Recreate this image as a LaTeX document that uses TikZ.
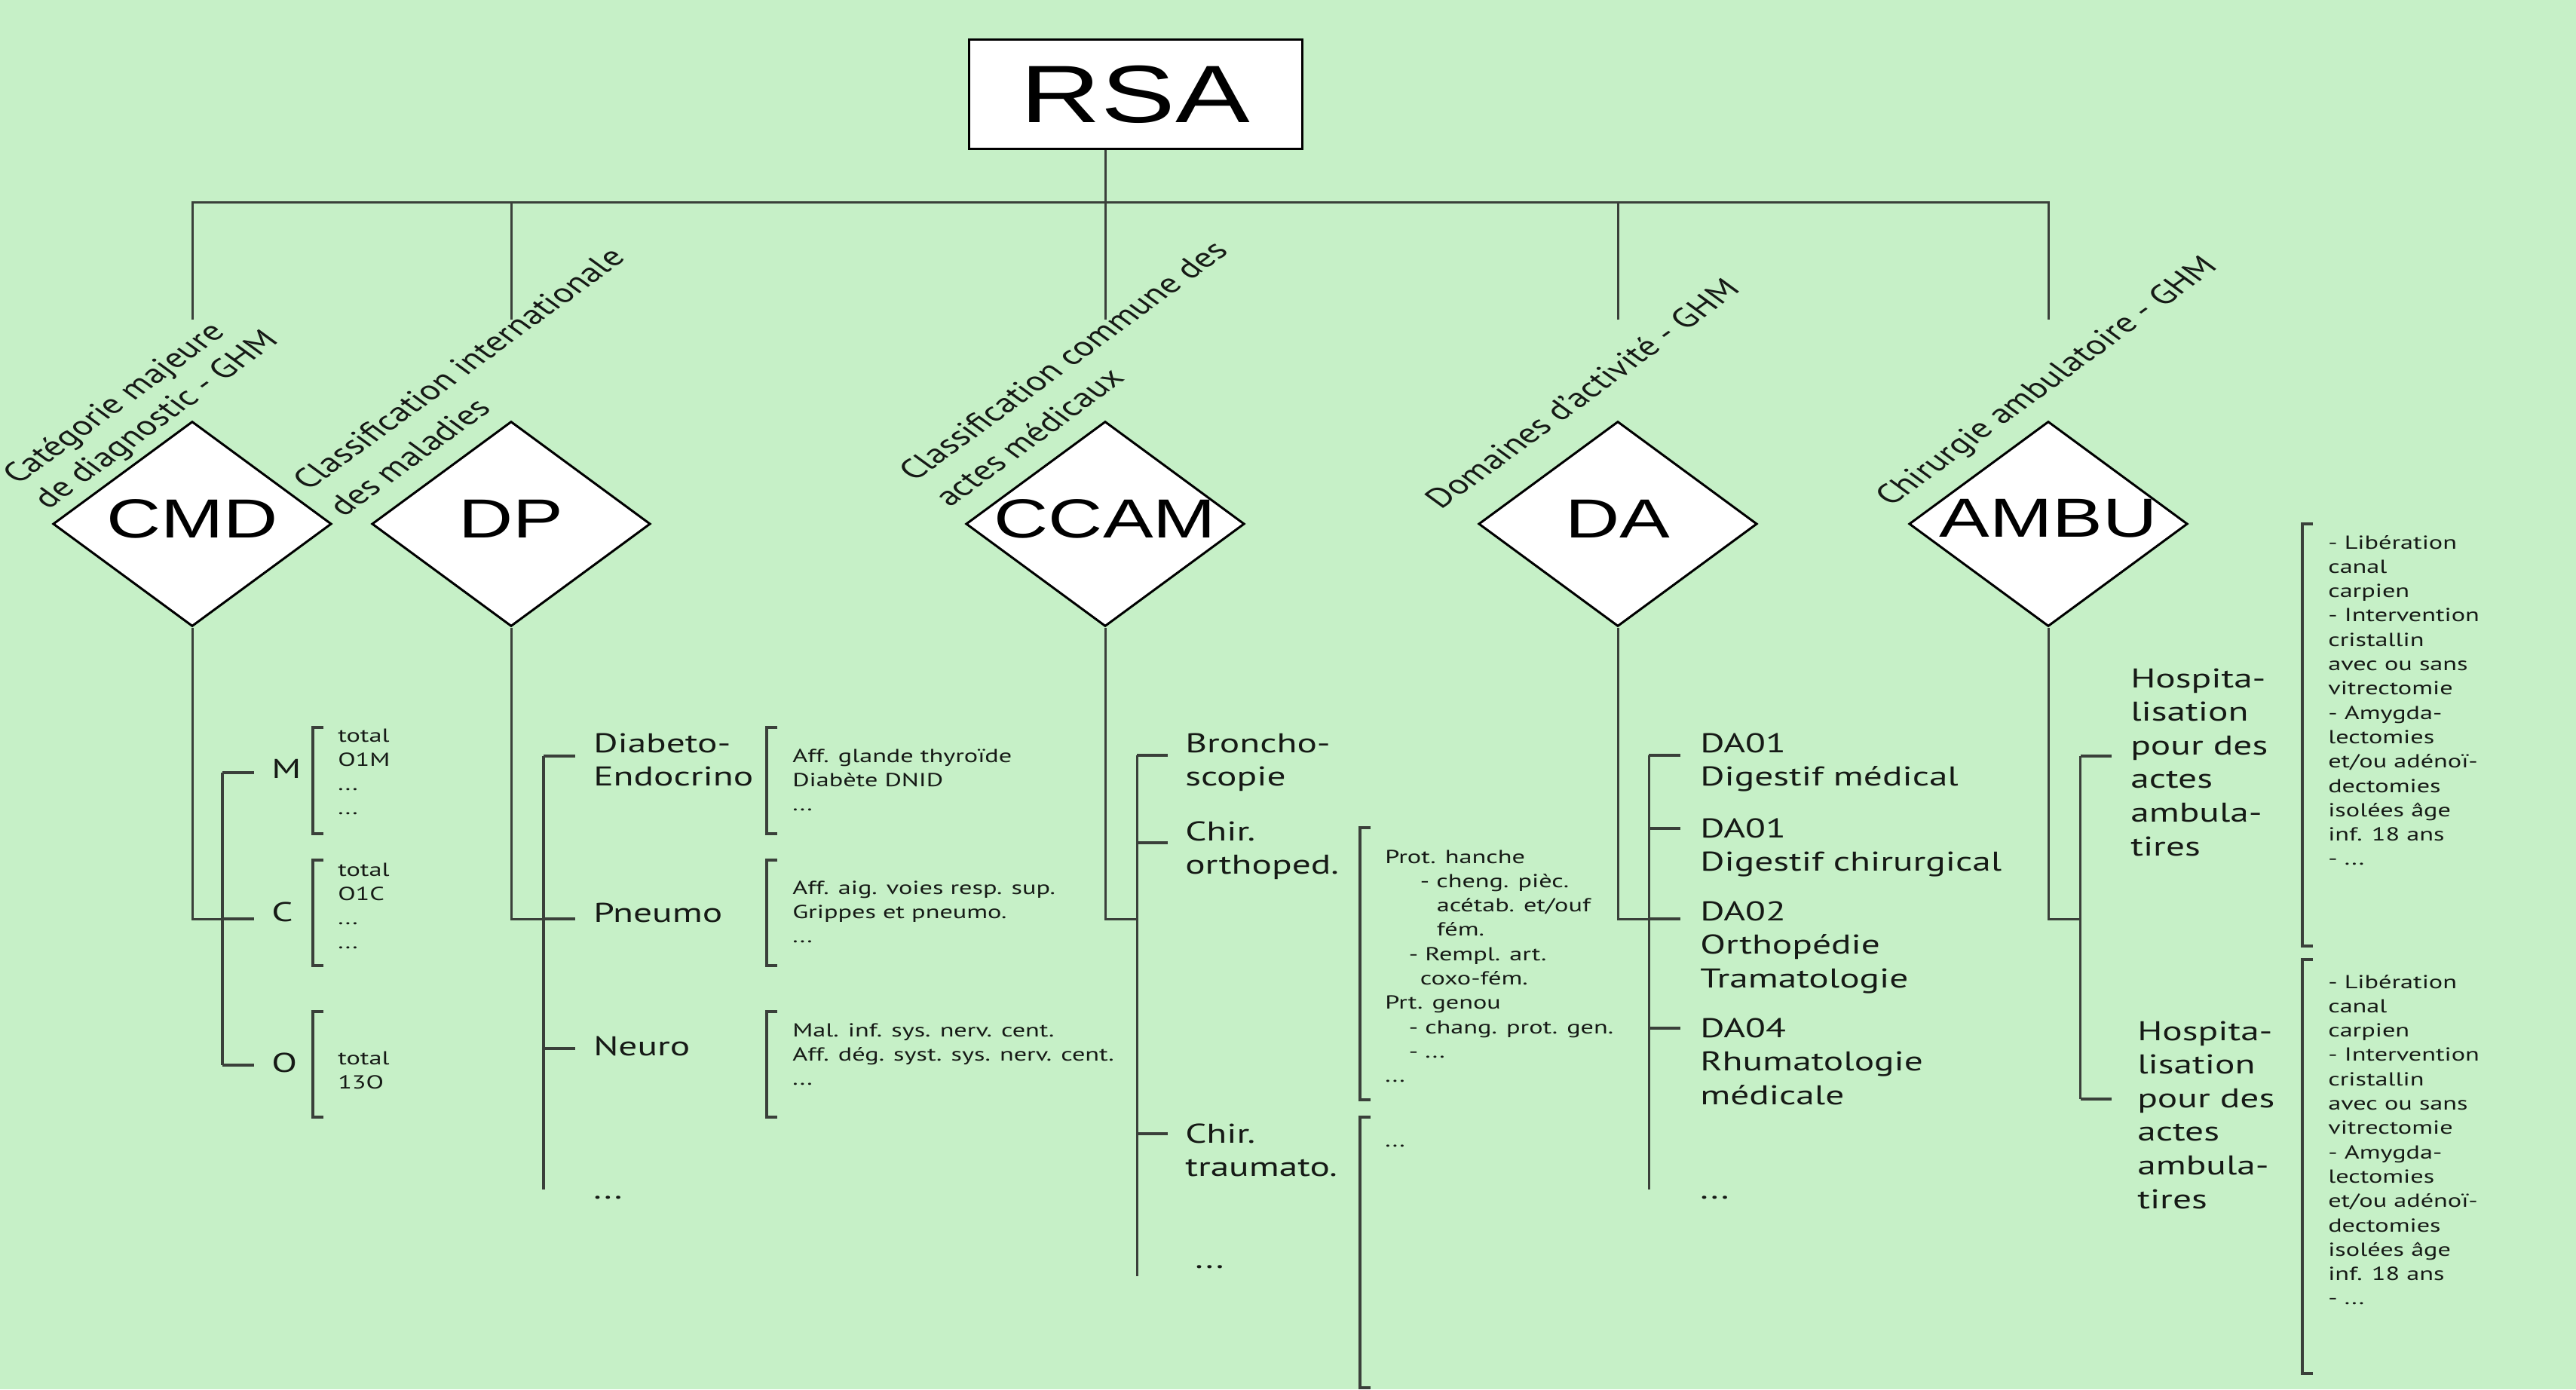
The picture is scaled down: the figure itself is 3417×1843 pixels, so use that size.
\documentclass[tikz,border=0pt]{standalone}
\usepackage{fontspec}
\setmainfont{PT Sans}
\newfontfamily\arialf{Liberation Sans}
\usetikzlibrary{shapes.geometric}
\definecolor{bg}{RGB}{198,240,199}
\definecolor{ln}{RGB}{58,64,58}
\definecolor{txt}{RGB}{22,26,22}
\newcommand\mtab[1]{\begin{tabular}[t]{@{}l@{}}#1\end{tabular}}
\newcommand\brk[3]{\draw[brkline] (#1+14,#2) -- (#1,#2) -- (#1,#3) -- (#1+14,#3);}
\begin{document}
\begin{tikzpicture}[x=0.729927pt, y=-1pt, xscale=1.37, transform shape,
  conn/.style={draw=ln, line width=3pt},
  tick/.style={draw=ln, line width=3.5pt},
  brkline/.style={draw=ln, line width=4pt},
  diam/.style={diamond, draw=black, fill=white, line width=3pt, minimum width=270pt, minimum height=272pt, inner sep=0pt},
  big/.style={font=\arialf\fontsize{73}{88}\selectfont, inner sep=0pt, text=black},
  med/.style={font=\fontsize{36}{44.6}\selectfont, anchor=base west, inner sep=0pt, text=txt},
  sml/.style={font=\fontsize{25}{32.3}\selectfont, anchor=base west, inner sep=0pt, text=txt},
  rot/.style={font=\fontsize{36.5}{48}\selectfont, anchor=base west, inner sep=0pt, rotate=45, text=txt}]

\fill[bg] (0,0) rectangle (3417,1843);
\useasboundingbox (0,0) rectangle (3417,1843);

% root
\node[draw=black, fill=white, line width=3pt, minimum width=322.6pt, minimum height=144pt, inner sep=0pt, font=\arialf\fontsize{108}{120}\selectfont] (rsa) at (1506,125) {RSA};

% diamonds
\node[diam] (cmd) at (255,695) {};
\node[diam] (dp) at (678,695) {};
\node[diam] (ccam) at (1466,695) {};
\node[diam] (da) at (2146,695) {};
\node[diam] (ambu) at (2717,695) {};
\node[big] (cmdt) at (255,688) {CMD};
\node[big] (dpt) at (678,688) {DP};
\node[big] (ccamt) at (1466,688) {CCAM};
\node[big] (dat) at (2146,688) {DA};
\node[big] (ambut) at (2717,688) {AMBU};

% rotated labels
\node[rot] (lcmd1) at (24,644) {Catégorie majeure};
\node[rot] (lcmd2) at (64,677) {de diagnostic - GHM};
\node[rot] (ldp1) at (409,652) {Classification internationale};
\node[rot] (ldp2) at (456,687) {des maladies};
\node[rot] (lccam1) at (1213,640) {Classification commune des};
\node[rot] (lccam2) at (1260,674) {actes médicaux};
\node[rot] (lda) at (1911,677) {Domaines d'activité - GHM};
\node[rot] (lambu) at (2508,673) {Chirurgie ambulatoire - GHM};

% top tree
\coordinate (tcmd) at (255,424);
\coordinate (tdp) at (678,424);
\coordinate (tccam) at (1466,424);
\coordinate (tda) at (2146,424);
\coordinate (tambu) at (2717,424);
\coordinate (bar) at (255,268);
\draw[conn] (tcmd) -- (tcmd |- bar) -- (tambu |- bar) -- (tambu);
\draw[conn] (tdp) -- (tdp |- bar);
\draw[conn] (tda) -- (tda |- bar);
\draw[conn] (rsa.south -| tccam) -- (tccam);

% ---------- CMD subtree
\coordinate (jcmd) at (295,1219);
\draw[conn] (cmd.south) |- (jcmd);
\coordinate (kM) at (337,1025);
\coordinate (kC) at (337,1219);
\coordinate (kO) at (337,1413);
\draw[tick] (kM -| jcmd) -- (kO -| jcmd);
\draw[tick] (kM -| jcmd) -- (kM);
\draw[tick] (jcmd) -- (kC);
\draw[tick] (kO -| jcmd) -- (kO);
\node[med] (nM) at (360,1032) {M};
\node[med] (nC) at (360,1222) {C};
\node[med] (nO) at (360,1422) {O};
\brk{415}{965}{1106}
\brk{415}{1141}{1281}
\brk{415}{1342}{1482}
\node[sml] (sM) at (448,984) {\mtab{total\\O1M\\...\\...}};
\node[sml] (sC) at (448,1162) {\mtab{total\\O1C\\...\\...}};
\node[sml] (sO) at (448,1412) {\mtab{total\\13O}};

% ---------- DP subtree
\coordinate (jdp) at (721,1219);
\draw[conn] (dp.south) |- (jdp);
\coordinate (kD1) at (763,1003);
\coordinate (kD2) at (763,1219);
\coordinate (kD3) at (763,1391);
\coordinate (kDend) at (721,1578);
\draw[tick] (kD1 -| jdp) -- (kDend);
\draw[tick] (kD1 -| jdp) -- (kD1);
\draw[tick] (jdp) -- (kD2);
\draw[tick] (kD3 -| jdp) -- (kD3);
\node[med] (nD1) at (787,998) {\mtab{Diabeto-\\Endocrino}};
\node[med] (nD2) at (787,1223) {Pneumo};
\node[med] (nD3) at (787,1400) {Neuro};
\node[med] (nD4) at (787,1590) {...};
\brk{1017}{965}{1106}
\brk{1017}{1141}{1281}
\brk{1017}{1342}{1482}
\node[sml] (sD1) at (1051,1011) {\mtab{Aff. glande thyroïde\\Diabète DNID\\...}};
\node[sml] (sD2) at (1051,1186) {\mtab{Aff. aig. voies resp. sup.\\Grippes et pneumo.\\...}};
\node[sml] (sD3) at (1051,1375) {\mtab{Mal. inf. sys. nerv. cent.\\Aff. dég. syst. sys. nerv. cent.\\...}};

% ---------- CCAM subtree
\coordinate (jcc) at (1508,1219);
\draw[conn] (ccam.south) |- (jcc);
\coordinate (kB1) at (1549,1002);
\coordinate (kB2) at (1549,1118);
\coordinate (kB3) at (1549,1504);
\coordinate (kBend) at (1508,1693);
\draw[tick] (kB1 -| jcc) -- (kBend);
\draw[tick] (kB1 -| jcc) -- (kB1);
\draw[tick] (kB2 -| jcc) -- (kB2);
\draw[tick] (kB3 -| jcc) -- (kB3);
\node[med] (nB1) at (1572,998) {\mtab{Broncho-\\scopie}};
\node[med] (nB2) at (1572,1115) {\mtab{Chir.\\orthoped.}};
\node[med] (nB3) at (1572,1516) {\mtab{Chir.\\traumato.}};
\node[med] (nB4) at (1585,1682) {...};
\brk{1804}{1098}{1459}
\brk{1804}{1482}{1841}
\node[sml] (sB2) at (1837,1145) {\mtab{Prot. hanche\\\hspace*{34pt}- cheng. pièc.\\\hspace*{50pt}acétab. et/ouf\\\hspace*{50pt}fém.\\\hspace*{23pt}- Rempl. art.\\\hspace*{34pt}coxo-fém.\\Prt. genou\\\hspace*{23pt}- chang. prot. gen.\\\hspace*{23pt}- ...\\...}};
\node[sml] (sB3) at (1837,1521) {...};

% ---------- DA subtree
\coordinate (jda) at (2187,1219);
\draw[conn] (da.south) |- (jda);
\coordinate (kA1) at (2229,1002);
\coordinate (kA2) at (2229,1099);
\coordinate (kA3) at (2229,1219);
\coordinate (kA4) at (2229,1364);
\coordinate (kAend) at (2187,1578);
\draw[tick] (kA1 -| jda) -- (kAend);
\draw[tick] (kA1 -| jda) -- (kA1);
\draw[tick] (kA2 -| jda) -- (kA2);
\draw[tick] (jda) -- (kA3);
\draw[tick] (kA4 -| jda) -- (kA4);
\node[med] (nA1) at (2255,998) {\mtab{DA01\\Digestif médical}};
\node[med] (nA2) at (2255,1111) {\mtab{DA01\\Digestif chirurgical}};
\node[med] (nA3) at (2255,1221) {\mtab{DA02\\Orthopédie\\Tramatologie}};
\node[med] (nA4) at (2255,1376) {\mtab{DA04\\Rhumatologie\\médicale}};
\node[med] (nA5) at (2255,1590) {...};

% ---------- AMBU subtree
\coordinate (jam) at (2759,1219);
\draw[conn] (ambu.south) |- (jam);
\coordinate (kH1) at (2800,1003);
\coordinate (kH2) at (2800,1458);
\draw[tick] (kH1 -| jam) -- (kH2 -| jam);
\draw[tick] (kH1 -| jam) -- (kH1);
\draw[tick] (kH2 -| jam) -- (kH2);
\node[med] (nH1) at (2826,912) {\mtab{Hospita-\\lisation\\pour des\\actes\\ambula-\\tires}};
\node[med] (nH2) at (2835,1380) {\mtab{Hospita-\\lisation\\pour des\\actes\\ambula-\\tires}};
\brk{3054}{695}{1255}
\brk{3054}{1273}{1822}
\node[sml] (sH1) at (3088,728) {\mtab{- Libération\\canal\\carpien\\- Intervention\\cristallin\\avec ou sans\\vitrectomie\\- Amygda-\\lectomies\\et/ou adénoï-\\dectomies\\isolées âge\\inf. 18 ans\\- ...}};
\node[sml] (sH2) at (3088,1311) {\mtab{- Libération\\canal\\carpien\\- Intervention\\cristallin\\avec ou sans\\vitrectomie\\- Amygda-\\lectomies\\et/ou adénoï-\\dectomies\\isolées âge\\inf. 18 ans\\- ...}};
\end{tikzpicture}
\end{document}
